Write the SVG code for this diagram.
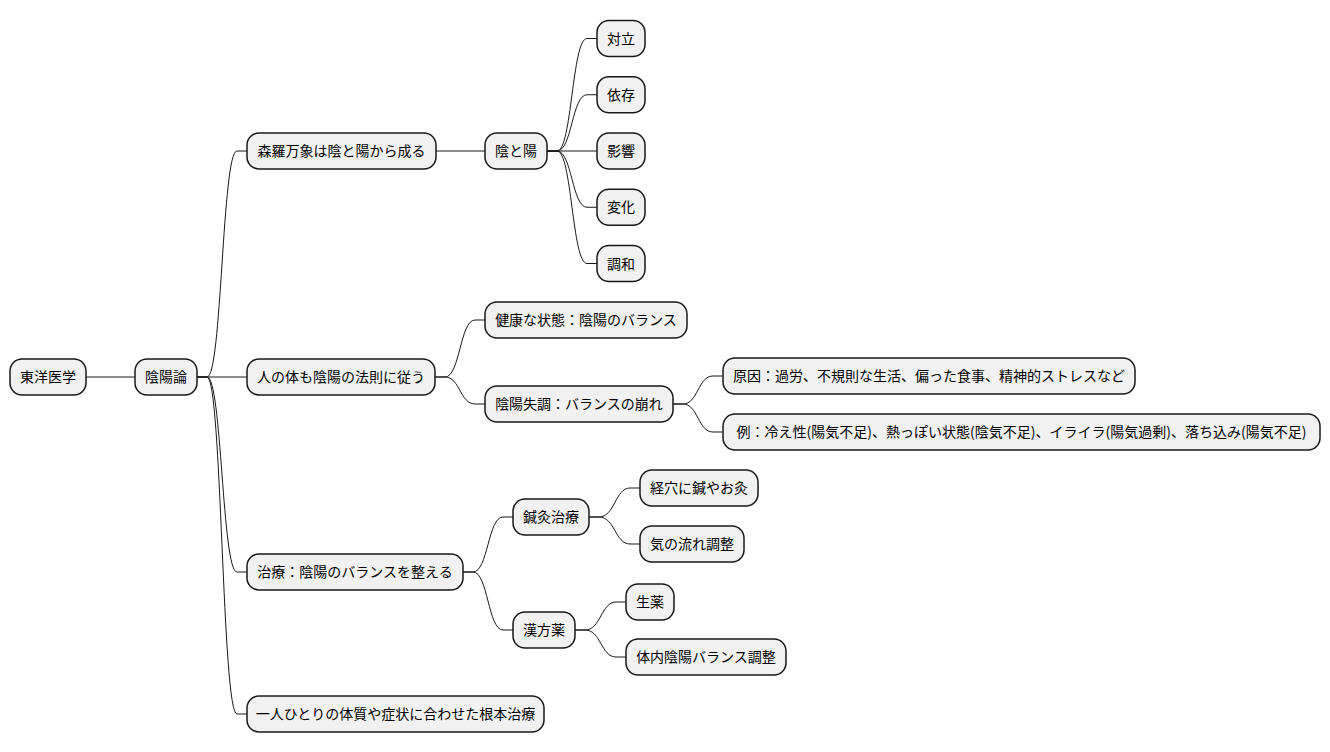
<svg xmlns="http://www.w3.org/2000/svg" width="1330" height="752" viewBox="0 0 1330 752">
<style>
rect{fill:#F1F1F1;stroke:#181818;stroke-width:1.5}
text{font-family:"Noto Sans CJK JP","Noto Sans",sans-serif;font-size:14px;fill:#000;text-anchor:middle}
.c path{fill:none;stroke:#181818;stroke-width:1}
</style>
<rect x="0" y="0" width="1330" height="752" style="fill:#fff;stroke:none"/>
<g class="c" id="connectors">
<path d="M86,377 L135,377"/>
<path d="M197,377 L207,377 C222,377 222,151 237,151 L247,151"/>
<path d="M197,377 L247,377"/>
<path d="M197,377 L207,377 C222,377 222,572 237,572 L247,572"/>
<path d="M197,377 L207,377 C222,377 222,714 237,714 L247,714"/>
<path d="M436,151 L485,151"/>
<path d="M547,151 L557,151 C572,151 572,38.5 587,38.5 L597,38.5"/>
<path d="M547,151 L557,151 C572,151 572,94.75 587,94.75 L597,94.75"/>
<path d="M547,151 L597,151"/>
<path d="M547,151 L557,151 C572,151 572,207.25 587,207.25 L597,207.25"/>
<path d="M547,151 L557,151 C572,151 572,263.5 587,263.5 L597,263.5"/>
<path d="M435,377 L445,377 C460,377 460,320 475,320 L485,320"/>
<path d="M435,377 L445,377 C460,377 460,404 475,404 L485,404"/>
<path d="M673,404 L683,404 C698,404 698,376 713,376 L723,376"/>
<path d="M673,404 L683,404 C698,404 698,432 713,432 L723,432"/>
<path d="M463,572 L473,572 C488,572 488,517 503,517 L513,517"/>
<path d="M463,572 L473,572 C488,572 488,630 503,630 L513,630"/>
<path d="M589,517 L599,517 C615,517 615,488 630,488 L640,488"/>
<path d="M589,517 L599,517 C615,517 615,544 630,544 L640,544"/>
<path d="M575,630 L585,630 C601,630 601,602 616,602 L626,602"/>
<path d="M575,630 L585,630 C601,630 601,657 616,657 L626,657"/>
</g>
<g id="n-root"><rect x="10" y="359" width="76" height="36" rx="12"/><text x="48" y="382">東洋医学</text></g>
<g id="n-inyo"><rect x="135" y="359" width="62" height="36" rx="12"/><text x="166" y="382">陰陽論</text></g>
<g id="n-shinra"><rect x="247" y="133" width="189" height="36" rx="12"/><text x="341.5" y="156">森羅万象は陰と陽から成る</text></g>
<g id="n-into"><rect x="485" y="133" width="62" height="36" rx="12"/><text x="516" y="156">陰と陽</text></g>
<g id="n-tairitsu"><rect x="597" y="20.5" width="48" height="36" rx="12"/><text x="621" y="43.5">対立</text></g>
<g id="n-izon"><rect x="597" y="76.75" width="48" height="36" rx="12"/><text x="621" y="99.75">依存</text></g>
<g id="n-eikyo"><rect x="597" y="133" width="48" height="36" rx="12"/><text x="621" y="156">影響</text></g>
<g id="n-henka"><rect x="597" y="189.25" width="48" height="36" rx="12"/><text x="621" y="212.25">変化</text></g>
<g id="n-chowa"><rect x="597" y="245.5" width="48" height="36" rx="12"/><text x="621" y="268.5">調和</text></g>
<g id="n-hito"><rect x="247" y="359" width="188" height="36" rx="12"/><text x="341" y="382">人の体も陰陽の法則に従う</text></g>
<g id="n-kenko"><rect x="485" y="302" width="202" height="36" rx="12"/><text x="586" y="325">健康な状態：陰陽のバランス</text></g>
<g id="n-shitcho"><rect x="485" y="386" width="188" height="36" rx="12"/><text x="579" y="409">陰陽失調：バランスの崩れ</text></g>
<g id="n-genin"><rect x="723" y="358" width="412" height="36" rx="12"/><text x="929" y="381">原因：過労、不規則な生活、偏った食事、精神的ストレスなど</text></g>
<g id="n-rei"><rect x="723" y="414" width="597" height="36" rx="12"/><text x="1021.5" y="437">例：冷え性(陽気不足)、熱っぽい状態(陰気不足)、イライラ(陽気過剰)、落ち込み(陽気不足)</text></g>
<g id="n-chiryo"><rect x="247" y="554" width="216" height="36" rx="12"/><text x="355" y="577">治療：陰陽のバランスを整える</text></g>
<g id="n-shinkyu"><rect x="513" y="499" width="76" height="36" rx="12"/><text x="551" y="522">鍼灸治療</text></g>
<g id="n-keiketsu"><rect x="640" y="470" width="118" height="36" rx="12"/><text x="699" y="493">経穴に鍼やお灸</text></g>
<g id="n-ki"><rect x="640" y="526" width="104" height="36" rx="12"/><text x="692" y="549">気の流れ調整</text></g>
<g id="n-kampo"><rect x="513" y="612" width="62" height="36" rx="12"/><text x="544" y="635">漢方薬</text></g>
<g id="n-shoyaku"><rect x="626" y="584" width="48" height="36" rx="12"/><text x="650" y="607">生薬</text></g>
<g id="n-tainai"><rect x="626" y="639" width="160" height="36" rx="12"/><text x="706" y="662">体内陰陽バランス調整</text></g>
<g id="n-hitori"><rect x="247" y="696" width="297" height="36" rx="12"/><text x="395.5" y="719">一人ひとりの体質や症状に合わせた根本治療</text></g>
</svg>
